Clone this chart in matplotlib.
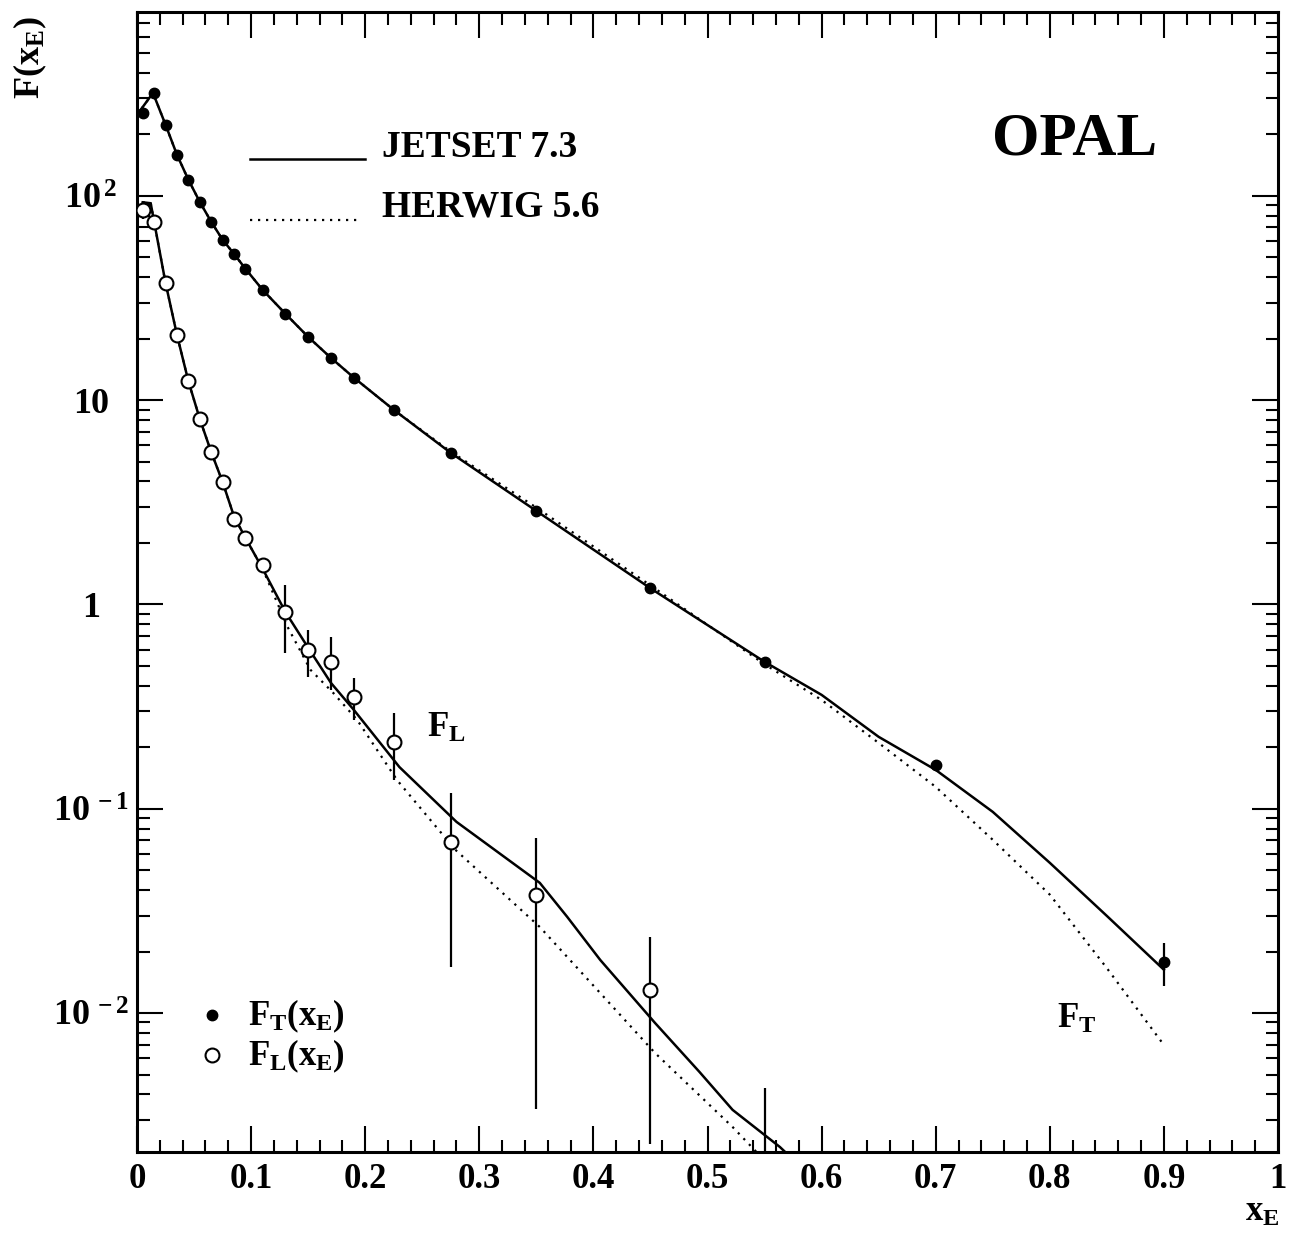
import numpy as np
import matplotlib
matplotlib.use("Agg")
import matplotlib.pyplot as plt
from matplotlib.ticker import FixedLocator, NullFormatter, LogLocator

plt.rcParams['font.family'] = ['Liberation Serif', 'DejaVu Serif']
plt.rcParams['font.weight'] = 'bold'
plt.rcParams['mathtext.fontset'] = 'custom'
plt.rcParams['mathtext.rm'] = 'Liberation Serif:bold'
plt.rcParams['mathtext.it'] = 'Liberation Serif:bold'
plt.rcParams['mathtext.bf'] = 'Liberation Serif:bold'

# ---- data ----
# F_T(x_E), filled points
ft_x = [0.005, 0.015, 0.025, 0.035, 0.045, 0.055, 0.065, 0.075, 0.085, 0.095,
        0.11, 0.13, 0.15, 0.17, 0.19, 0.225, 0.275, 0.35, 0.45, 0.55, 0.7, 0.9]
ft_y = [255, 319, 223, 159, 120, 93.5, 74.7, 61, 52, 44,
        34.7, 26.5, 20.4, 16.1, 12.9, 8.97, 5.52, 2.87, 1.2, 0.524, 0.164, 0.0178]
ft_err = [4, 5, 3, 2, 1.5, 1, 0.8, 0.6, 0.5, 0.4,
          0.3, 0.2, 0.15, 0.12, 0.1, 0.07, 0.04, 0.02, 0.01, 0.005, 0.003, 0.0043]

# F_L(x_E), open points
fl_x = [0.005, 0.015, 0.025, 0.035, 0.045, 0.055, 0.065, 0.075, 0.085, 0.095,
        0.11, 0.13, 0.15, 0.17, 0.19, 0.225, 0.275, 0.35, 0.45, 0.55]
fl_y = [85, 74.6, 37.5, 20.9, 12.4, 8.1, 5.58, 3.98, 2.62, 2.12,
        1.56, 0.92, 0.60, 0.52, 0.353, 0.212, 0.0688, 0.0379, 0.013, 0.0012]
fl_err_lo = [8, 3, 2, 1.5, 0.8, 0.6, 0.4, 0.3, 0.2, 0.15,
             0.12, 0.34, 0.16, 0.14, 0.081, 0.074, 0.052, 0.0345, 0.0107, 0.0011]
fl_err_hi = [8, 3, 2, 1.5, 0.8, 0.6, 0.4, 0.3, 0.2, 0.15,
             0.12, 0.33, 0.15, 0.17, 0.084, 0.082, 0.051, 0.034, 0.0106, 0.0031]

# JETSET 7.3 curves
jt_x = [0.0, 0.014, 0.025, 0.035, 0.045, 0.055, 0.065, 0.075, 0.085, 0.095,
        0.11, 0.13, 0.15, 0.17, 0.19, 0.225, 0.275, 0.35, 0.45, 0.55,
        0.6, 0.65, 0.7, 0.75, 0.8, 0.85, 0.9]
jt_y = [249, 319, 223, 159, 120, 93.5, 74.7, 61, 52, 44,
        34.7, 26.5, 20.4, 16.1, 12.9, 8.97, 5.52, 2.87, 1.2, 0.524,
        0.361, 0.225, 0.155, 0.0966, 0.0544, 0.0299, 0.0163]
jl_x = [0.005, 0.012, 0.025, 0.035, 0.045, 0.055, 0.065, 0.075, 0.085, 0.095,
        0.11, 0.13, 0.15, 0.17, 0.19, 0.23, 0.28, 0.353, 0.377, 0.406,
        0.454, 0.493, 0.522, 0.5635, 0.59]
jl_y = [93, 92, 37.5, 20.9, 12.4, 8.1, 5.58, 3.98, 2.7, 2.12,
        1.5, 0.92, 0.614, 0.413, 0.305, 0.160, 0.0863, 0.0434, 0.0296, 0.0182,
        0.00895, 0.00515, 0.00336, 0.00221, 0.0016]

# HERWIG 5.6 curves
ht_x = [0.0, 0.014, 0.025, 0.035, 0.045, 0.055, 0.065, 0.075, 0.085, 0.095,
        0.11, 0.13, 0.15, 0.17, 0.19, 0.225, 0.275, 0.35, 0.45, 0.55,
        0.6, 0.65, 0.7, 0.75, 0.8, 0.85, 0.9]
ht_y = [249, 319, 223, 159, 120, 93.5, 74.7, 61, 52, 44,
        34.7, 26.5, 20.4, 16.1, 12.9, 8.97, 5.6, 2.98, 1.24, 0.51,
        0.341, 0.21, 0.128, 0.0705, 0.038, 0.0166, 0.00698]
hl_x = [0.005, 0.012, 0.025, 0.035, 0.045, 0.055, 0.065, 0.075, 0.085, 0.095,
        0.11, 0.132, 0.152, 0.172, 0.193, 0.228, 0.279, 0.353, 0.454, 0.522, 0.55]
hl_y = [93, 92, 37.5, 20.9, 12.4, 8.1, 5.58, 3.98, 2.7, 2.12,
        1.5, 0.776, 0.479, 0.369, 0.272, 0.138, 0.063, 0.0264, 0.00638, 0.00277, 0.0019]

ytick_vals = [0.01, 0.1, 1, 10, 100]
ytick_text = [r'10$^{\,-2}$', r'10$^{\,-1}$', '1', '10', r'10$^{\,2}$']
xtick_vals = [0, 0.1, 0.2, 0.3, 0.4, 0.5, 0.6, 0.7, 0.8, 0.9, 1]
xtick_text = ['0', '0.1', '0.2', '0.3', '0.4', '0.5', '0.6', '0.7', '0.8', '0.9', '1']

#%% figure
fig = plt.figure(figsize=(12.95, 12.34), dpi=100)
ax = fig.add_axes([137/1295, 1 - 1152/1234, 1141/1295, 1140/1234])

dotted = (0, (1, 2.6))
ax.plot(jt_x, jt_y, color='k', lw=1.8)
ax.plot(ht_x, ht_y, color='k', lw=1.6, linestyle=dotted)
ax.plot(jl_x, jl_y, color='k', lw=1.8)
ax.plot(hl_x, hl_y, color='k', lw=1.6, linestyle=dotted)

ax.errorbar(ft_x, ft_y, yerr=ft_err, fmt='o', color='k', ms=7.5,
            elinewidth=1.6, capsize=0, zorder=5)
ax.errorbar(fl_x, fl_y, yerr=[fl_err_lo, fl_err_hi], fmt='o', mfc='white',
            mec='k', mew=1.5, ecolor='k', ms=10, elinewidth=1.6, capsize=0, zorder=5)

ax.set_yscale('log')
ax.set_xlim(0, 1)
ax.set_ylim(0.00209, 794)

ax.set_xticks(xtick_vals, labels=xtick_text)
ax.xaxis.set_minor_locator(FixedLocator(np.arange(0, 1.001, 0.02)))
ax.set_yticks(ytick_vals, labels=ytick_text)
ax.yaxis.set_minor_locator(LogLocator(base=10, subs=np.arange(2, 10), numticks=20))
ax.yaxis.set_minor_formatter(NullFormatter())

ax.tick_params(which='both', direction='in', top=True, right=True, width=1.5)
ax.tick_params(which='major', length=19)
ax.tick_params(which='minor', length=9)
ax.tick_params(axis='x', which='major', labelsize=25, pad=8)
ax.tick_params(axis='y', which='major', labelsize=26, pad=33)
plt.setp(ax.get_yticklabels(), ha='center')
for s in ax.spines.values():
    s.set_linewidth(2.2)

# legend for the curves
ax.plot([0.099, 0.2], [0.871, 0.871], transform=ax.transAxes, color='k', lw=1.8)
ax.plot([0.099, 0.197], [0.8175, 0.8175], transform=ax.transAxes, color='k',
        lw=1.6, linestyle=dotted)
ax.text(0.2147, 0.8728, 'JETSET 7.3', transform=ax.transAxes, fontsize=27, va='baseline')
ax.text(0.2147, 0.8202, 'HERWIG 5.6', transform=ax.transAxes, fontsize=27, va='baseline')
ax.text(0.749, 0.8746, 'OPAL', transform=ax.transAxes, fontsize=44, va='baseline')

# legend for the points
ax.plot([0.0657], [0.1202], 'o', color='k', ms=7.5, transform=ax.transAxes)
ax.plot([0.0657], [0.0851], 'o', mfc='white', mec='k', mew=1.5, ms=10,
        transform=ax.transAxes)
ax.text(0.0973, 0.1114, r'F$_{\rm T}$(x$_{\rm E}$)', transform=ax.transAxes,
        fontsize=25, va='baseline')
ax.text(0.0973, 0.0763, r'F$_{\rm L}$(x$_{\rm E}$)', transform=ax.transAxes,
        fontsize=25, va='baseline')

ax.text(0.254, 0.364, r'F$_{\rm L}$', transform=ax.transAxes, fontsize=25, va='baseline')
ax.text(0.806, 0.1088, r'F$_{\rm T}$', transform=ax.transAxes, fontsize=25, va='baseline')

fig.text(30/1295, 1 - 58/1234, r'F(x$_{\rm E}$)', rotation=90, fontsize=26,
         ha='center', va='center')
fig.text(1262/1295, 1 - 1212/1234, r'x$_{\rm E}$', fontsize=25, ha='center', va='center')

fig.savefig('out.png', dpi=100)
